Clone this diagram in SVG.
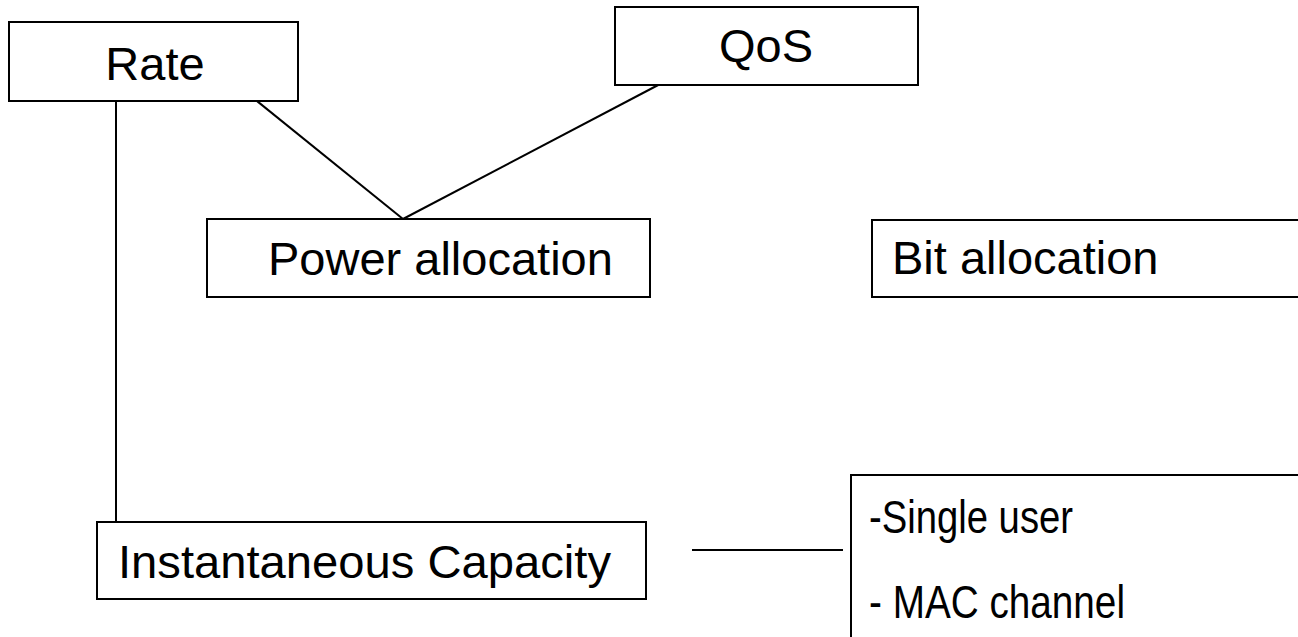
<svg xmlns="http://www.w3.org/2000/svg" width="1298" height="637" viewBox="0 0 1298 637">
  <style>
    .box { fill: #ffffff; stroke: #000000; stroke-width: 2; }
    .lbl { font-family: "Liberation Sans", Arial, sans-serif; font-size: 47px; fill: #000000; }
    .link { stroke: #000000; stroke-width: 2; fill: none; }
  </style>
  <rect width="1298" height="637" fill="#ffffff"/>

  <!-- connectors -->
  <g id="connectors">
    <line class="link" x1="116" y1="97" x2="116" y2="522"/>
    <line class="link" x1="252" y1="97" x2="403" y2="219"/>
    <line class="link" x1="662" y1="83" x2="403" y2="219"/>
    <line class="link" x1="692" y1="550" x2="843" y2="550"/>
  </g>

  <g id="rate">
    <rect class="box" x="9" y="22" width="289" height="79"/>
    <text class="lbl" x="155" y="80" text-anchor="middle">Rate</text>
  </g>

  <g id="qos">
    <rect class="box" x="615" y="7" width="303" height="78"/>
    <text class="lbl" x="766" y="62" text-anchor="middle">QoS</text>
  </g>

  <g id="power-allocation">
    <rect class="box" x="207" y="219" width="443" height="78"/>
    <text class="lbl" x="268" y="275">Power allocation</text>
  </g>

  <g id="bit-allocation">
    <rect class="box" x="872" y="220" width="440" height="77"/>
    <text class="lbl" x="892" y="274">Bit allocation</text>
  </g>

  <g id="instantaneous-capacity">
    <rect class="box" x="97" y="522" width="549" height="77"/>
    <text class="lbl" x="118" y="578" textLength="493" lengthAdjust="spacingAndGlyphs">Instantaneous Capacity</text>
  </g>

  <g id="channel-types">
    <rect class="box" x="851" y="475" width="500" height="200"/>
    <!-- condensed list lines -->
    <text class="lbl" x="869" y="533" textLength="204" lengthAdjust="spacingAndGlyphs">-Single user</text>
    <text class="lbl" x="869" y="618" textLength="256" lengthAdjust="spacingAndGlyphs">- MAC channel</text>
  </g>
</svg>
